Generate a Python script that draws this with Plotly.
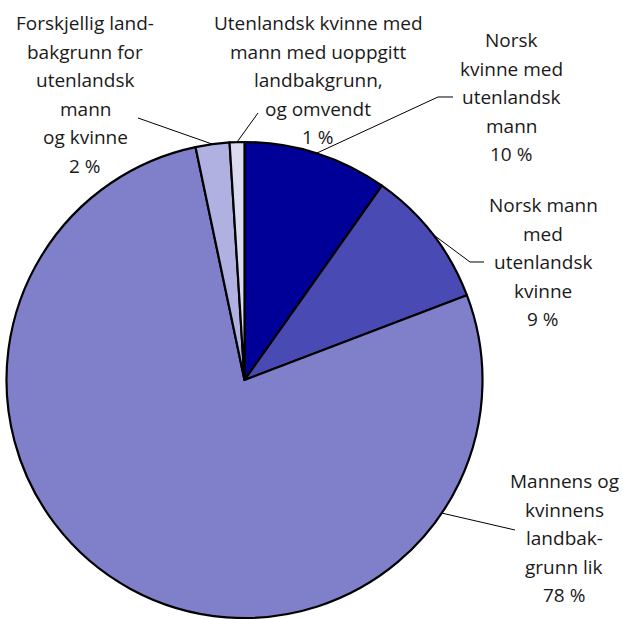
import math
import plotly.graph_objects as go

W, H = 623, 619

# slices, clockwise from 12 o'clock
labels = [
    "Norsk kvinne med utenlandsk mann",
    "Norsk mann med utenlandsk kvinne",
    "Mannens og kvinnens landbakgrunn lik",
    "Forskjellig landbakgrunn for utenlandsk mann og kvinne",
    "Utenlandsk kvinne med mann med uoppgitt landbakgrunn, og omvendt",
]
values = [9.8, 9.4, 77.5, 2.3, 1.0]
pct_text = ["10 %", "9 %", "78 %", "2 %", "1 %"]
label_lines = [
    ["Norsk", "kvinne med", "utenlandsk", "mann"],
    ["Norsk mann", "med", "utenlandsk", "kvinne"],
    ["Mannens og", "kvinnens", "landbak-", "grunn lik"],
    ["Forskjellig land-", "bakgrunn for", "utenlandsk", "mann", "og kvinne"],
    ["Utenlandsk kvinne med", "mann med uoppgitt", "landbakgrunn,", "og omvendt"],
]
colors = ["#000099", "#4a4ab4", "#8080ca", "#b1b1e1", "#dadaf1"]

# label layout (pixels): centre x, first baseline, leader end points
label_x = [511, 543, 564, 85, 318]
label_y0 = [47, 212, 488, 30, 30]
leader_pts = [
    [(438, 97), (453, 97)],
    [(470, 262), (484, 262)],
    [(515, 530)],
    [(138, 118)],
    [(258, 113)],
]
leader_angle = [None, None, 124, None, None]  # degrees clockwise from top
LINE_H = 28.6

# pie position in pixels
cx, cy, R = 244.5, 380, 238


def px(x):
    return x / W


def py(y):
    return 1 - y / H


fig = go.Figure(
    go.Pie(
        labels=labels,
        values=values,
        sort=False,
        direction="clockwise",
        rotation=0,
        textinfo="none",
        hoverinfo="label+percent",
        marker=dict(colors=colors, line=dict(color="black", width=2.2)),
        domain=dict(x=[px(cx - R), px(cx + R)], y=[py(cy + R), py(cy - R)]),
        showlegend=False,
    )
)

total = sum(values)
cum = 0
shapes = []
annotations = []
for i, v in enumerate(values):
    mid = (cum + v / 2) / total * 360
    cum += v
    ang = leader_angle[i] if leader_angle[i] is not None else mid
    a = math.radians(ang)
    ex, ey = cx + R * math.sin(a), cy - R * math.cos(a)
    pts = [(ex, ey)] + leader_pts[i]
    path = "M " + " L ".join("%f,%f" % (px(x), py(y)) for x, y in pts)
    shapes.append(dict(type="path", xref="paper", yref="paper", path=path,
                       line=dict(color="black", width=1)))

    lines = label_lines[i] + [pct_text[i]]
    for j, t in enumerate(lines):
        base = label_y0[i] + j * LINE_H
        annotations.append(dict(
            x=px(label_x[i]), y=py(base - 7), xref="paper", yref="paper",
            text=t, showarrow=False, xanchor="center", yanchor="middle",
            font=dict(family="Open Sans", size=19, color="#1a1a1a"),
        ))

fig.update_layout(
    width=W, height=H,
    margin=dict(l=0, r=0, t=0, b=0),
    paper_bgcolor="white",
    plot_bgcolor="white",
    shapes=shapes,
    annotations=annotations,
)

# drop the default body margin so the figure sits at the page corner
fig.write_html("out.html", config={"displayModeBar": False},
               post_script="document.body.style.margin='0';")
